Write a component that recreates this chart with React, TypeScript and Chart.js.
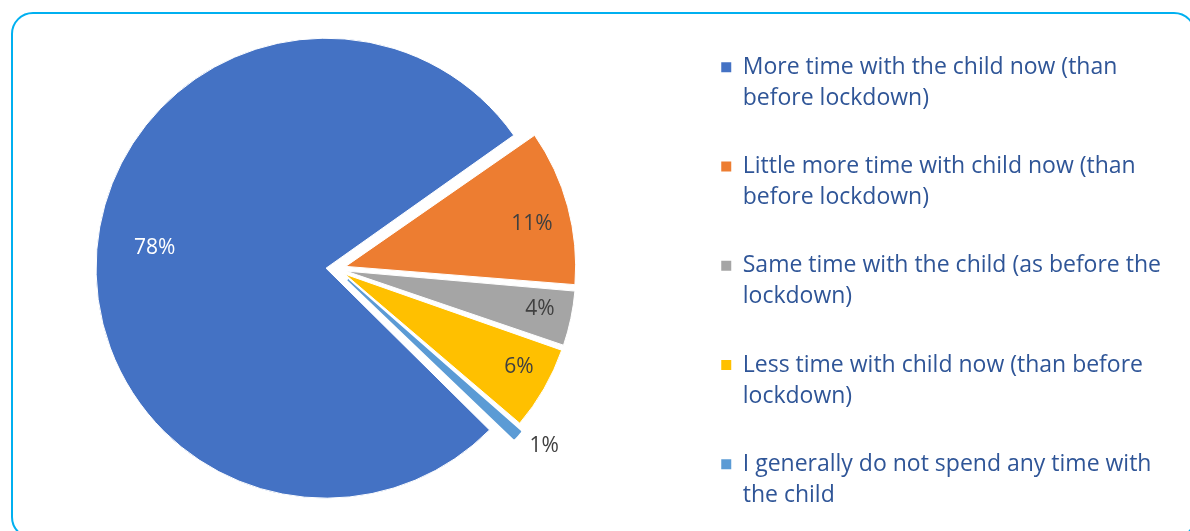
import React, { useEffect, useRef } from "react";
import { Chart, registerables } from "chart.js";

Chart.register(...registerables);

// ---- data ----
const categories: string[][] = [
  ["More time with the child now (than", "before lockdown)"],
  ["Little more time with child now (than", "before lockdown)"],
  ["Same time with the child (as before the", "lockdown)"],
  ["Less time with child now (than before", "lockdown)"],
  ["I generally do not spend any time with", "the child"],
];
const values = [78, 11, 4, 6, 1];
const valueLabels = values.map((v) => `${v}%`);

// ---- styles ----
const colors = ["#4472C4", "#ED7D31", "#A5A5A5", "#FFC000", "#5B9BD5"];
const borderColors = ["#FFFFFF", "#FFFFFF", "#FFFFFF", "#FFFFFF", "#5B9BD5"];
const borderWidths = [1, 1, 1, 1, 1.5];
const labelColors = ["#FFFFFF", "#404040", "#404040", "#404040", "#404040"];
const explode = [40, 40, 40, 40, 64];
const labelRadius = [0.75, 0.83, 0.86, 0.86, 1.12];
const labelAngleNudge = [2.0, 2.4, -0.7, -1.7, -2.2];

const CANVAS_X = -12;
const CANVAS_Y = -24;
const CANVAS_W = 1202;
const CANVAS_H = 586;
const PIE_R = 230;
const FONT = "'Open Sans', 'Noto Sans', sans-serif";
const LEGEND_FS = 23;
const LEGEND_LH = 31;
const LEGEND_PAD = 37.25;
const LEGEND_BOX = 10;
const LEGEND_TITLE_H = 42.5;
const LEGEND_TARGET_W = 506;
const LEGEND_COLOR = "#2F5597";
const LABEL_FS = 21;

const explodeFix = {
  id: "explodeFix",
  afterDatasetUpdate(chart: any, args: any) {
    const meta = args.meta;
    meta.data.forEach((arc: any, i: number) => {
      const off = (explode[i] || 0) / 4;
      const circ = arc.circumference || 0;
      const fix = 1 - Math.sin(Math.min(Math.PI, circ));
      arc.outerRadius = PIE_R - off * fix;
    });
  },
};

const sliceLabels = {
  id: "sliceLabels",
  afterDatasetsDraw(chart: any) {
    const meta = chart.getDatasetMeta(0);
    const ctx = chart.ctx;
    ctx.save();
    ctx.font = `${LABEL_FS}px ${FONT}`;
    ctx.textAlign = "center";
    ctx.textBaseline = "middle";
    meta.data.forEach((arc: any, i: number) => {
      const mid = (arc.startAngle + arc.endAngle) / 2;
      const shift = explode[i] / 4;
      const cx = arc.x + Math.cos(mid) * shift;
      const cy = arc.y + Math.sin(mid) * shift;
      const a = mid + (labelAngleNudge[i] * Math.PI) / 180;
      const r = PIE_R * labelRadius[i];
      ctx.fillStyle = labelColors[i];
      ctx.fillText(valueLabels[i], cx + Math.cos(a) * r, cy + Math.sin(a) * r);
    });
    ctx.restore();
  },
};

function legendNaturalWidth(): number {
  const c = document.createElement("canvas").getContext("2d");
  if (!c) return LEGEND_TARGET_W;
  c.font = `${LEGEND_FS}px ${FONT}`;
  let maxItem = 0;
  categories.forEach((lines) => {
    const longest = lines.reduce((a, b) => (a.length > b.length ? a : b));
    const w = LEGEND_BOX + LEGEND_FS / 2 + c.measureText(longest).width;
    maxItem = Math.max(maxItem, w);
  });
  return LEGEND_PAD + maxItem + 10;
}

export default function App() {
  const canvasRef = useRef<HTMLCanvasElement | null>(null);

  useEffect(() => {
    if (!canvasRef.current) return;
    const natural = legendNaturalWidth();
    const padRight = Math.max(0, LEGEND_TARGET_W - natural);

    const chart = new Chart(canvasRef.current, {
      type: "pie",
      data: {
        labels: categories.map((l) => l.join(" ")),
        datasets: [
          {
            data: values,
            backgroundColor: colors,
            borderColor: borderColors,
            borderWidth: borderWidths,
            offset: explode,
            hoverOffset: 0,
          } as any,
        ],
      },
      options: {
        animation: false,
        responsive: false,
        maintainAspectRatio: false,
        events: [],
        rotation: 134.3,
        radius: PIE_R,
        layout: { padding: { left: 0, right: padRight, top: 0, bottom: 0 } },
        plugins: {
          tooltip: { enabled: false },
          legend: {
            display: true,
            position: "right",
            align: "start",
            maxWidth: LEGEND_TARGET_W,
            title: {
              display: true,
              text: " ",
              padding: 0,
              font: { size: 10, lineHeight: `${LEGEND_TITLE_H}px` },
            },
            labels: {
              boxWidth: LEGEND_BOX,
              boxHeight: LEGEND_BOX,
              padding: LEGEND_PAD,
              color: LEGEND_COLOR,
              font: { family: FONT, size: LEGEND_FS, lineHeight: `${LEGEND_LH}px` },
              generateLabels: (ch: any) => {
                const ds = ch.data.datasets[0];
                return categories.map((lines, i) => ({
                  text: lines,
                  fillStyle: ds.backgroundColor[i],
                  strokeStyle: ds.backgroundColor[i],
                  lineWidth: 0,
                  hidden: false,
                  index: i,
                  fontColor: LEGEND_COLOR,
                  textAlign: "left",
                }));
              },
            },
          } as any,
        },
      } as any,
      plugins: [explodeFix, sliceLabels],
    });

    return () => {
      chart.destroy();
    };
  }, []);

  return (
    <div
      style={{
        position: "fixed",
        left: 0,
        top: 0,
        width: 1190,
        height: 531,
        overflow: "hidden",
        background: "#FFFFFF",
      }}
    >
      <div
        style={{
          position: "absolute",
          left: 11,
          top: 12,
          width: 1185,
          height: 527,
          boxSizing: "border-box",
          border: "2px solid #00B0F0",
          borderRadius: 22,
        }}
      />
      <canvas
        ref={canvasRef}
        width={CANVAS_W}
        height={CANVAS_H}
        style={{ position: "absolute", left: CANVAS_X, top: CANVAS_Y }}
      />
    </div>
  );
}
